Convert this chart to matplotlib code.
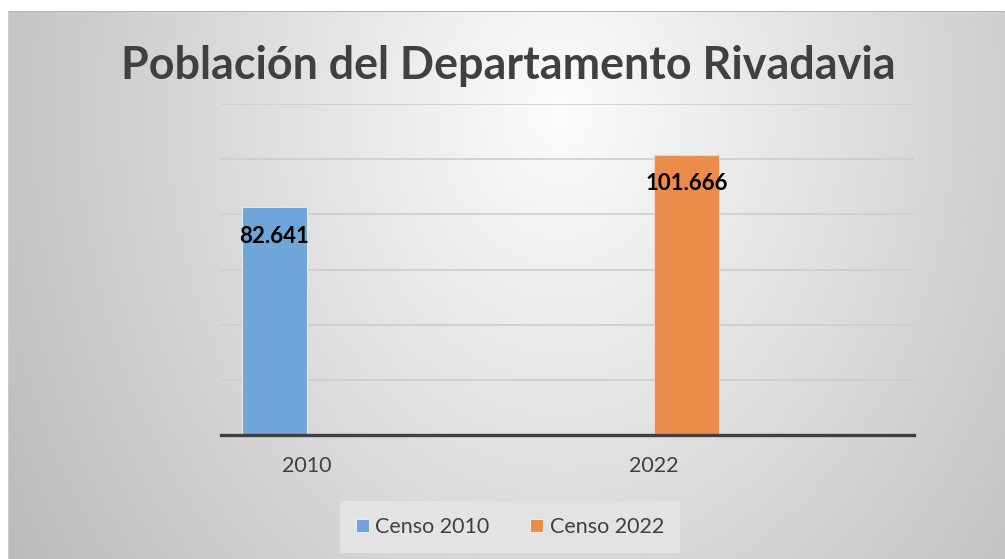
import numpy as np
import matplotlib
matplotlib.use('Agg')
import matplotlib.pyplot as plt
from matplotlib.patches import Patch

# datos
categorias = ['2010', '2022']
series = ['Censo 2010', 'Censo 2022']
poblacion = [82641, 101666]
etiquetas = ['82.641', '101.666']
colores = ['#6fa5d8', '#ec8c4b']
titulo = 'Población del Departamento Rivadavia'

plt.rcParams['font.family'] = ['Lato', 'DejaVu Sans']

W, H = 1005, 559
fig = plt.figure(figsize=(W / 100, H / 100), dpi=100)

# fondo degradado (tipo Excel)
yy, xx = np.mgrid[0:H, 0:W]
r = np.sqrt(((xx - 560) / 550.0) ** 2 + ((yy - 110) / 700.0) ** 2)
val = np.clip(252 - 55 * r, 180, 252) / 255.0
fondo = np.dstack([val, val, val])
fondo[:12, :, :] = 1.0
fondo[:, :8, :] = 1.0
fondo[11, 8:, :] = 0.72
fondo[11:, 8, :] = 0.80
ax_bg = fig.add_axes([0, 0, 1, 1])
ax_bg.imshow(fondo, extent=[0, W, H, 0], aspect='auto', interpolation='bilinear')
ax_bg.set_xlim(0, W)
ax_bg.set_ylim(H, 0)
ax_bg.axis('off')

# area de grafico
izq, der = 221, 914
base, tope = 435, 104
ax = fig.add_axes([izq / W, (H - base) / H, (der - izq) / W, (base - tope) / H])
ax.patch.set_alpha(0)

paso = 347.0
x0 = 307.0
ancho = 65.0 / paso
xs = np.arange(len(categorias))

ax.bar(xs[0], poblacion[0], width=-ancho, align='edge', color=colores[0],
       edgecolor='#dfe9f3', linewidth=0.8, zorder=3)
ax.bar(xs[1], poblacion[1], width=ancho, align='edge', color=colores[1],
       edgecolor='#f5d2b8', linewidth=0.8, zorder=3)

centros = [xs[0] - ancho / 2, xs[1] + ancho / 2]
for cx, v, t in zip(centros, poblacion, etiquetas):
    ax.annotate(t, (cx, v), xytext=(0, -21), textcoords='offset points',
                ha='center', va='center', fontsize=16, fontweight='bold',
                color='black', zorder=4)

ax.set_xlim((izq - x0) / paso, (der - x0) / paso)
ax.set_ylim(0, 120000)
ax.set_yticks(np.arange(20000, 120001, 20000))
ax.yaxis.grid(True, color='#cdcdcd', linewidth=1.2, zorder=1)
ax.tick_params(axis='y', left=False, labelleft=False)
ax.set_xticks(xs)
ax.set_xticklabels(categorias, fontsize=15.5, color='#404040')
ax.tick_params(axis='x', length=0, pad=15)
for s in ['top', 'right', 'left']:
    ax.spines[s].set_visible(False)
ax.spines['bottom'].set_color('#404040')
ax.spines['bottom'].set_linewidth(2.4)
ax.spines['bottom'].set_zorder(5)

fig.text(508 / W, 1 - 79 / H, titulo, ha='center', va='baseline',
         fontsize=32.3, fontweight='bold', color='#404040')

handles = [Patch(facecolor=c, edgecolor='white', linewidth=0.5) for c in colores]
leg = fig.legend(handles, series, loc='center', bbox_to_anchor=(510 / W, 1 - 527 / H),
                 ncol=2, fontsize=15.5, frameon=True, fancybox=False,
                 handlelength=0.6, handleheight=0.6, handletextpad=0.3,
                 columnspacing=1.9, borderpad=0.75, labelcolor='#404040')
leg.get_frame().set_facecolor('#e3e3e3')
leg.get_frame().set_edgecolor('none')
leg.get_frame().set_alpha(1)

fig.savefig('out.png', dpi=100)
